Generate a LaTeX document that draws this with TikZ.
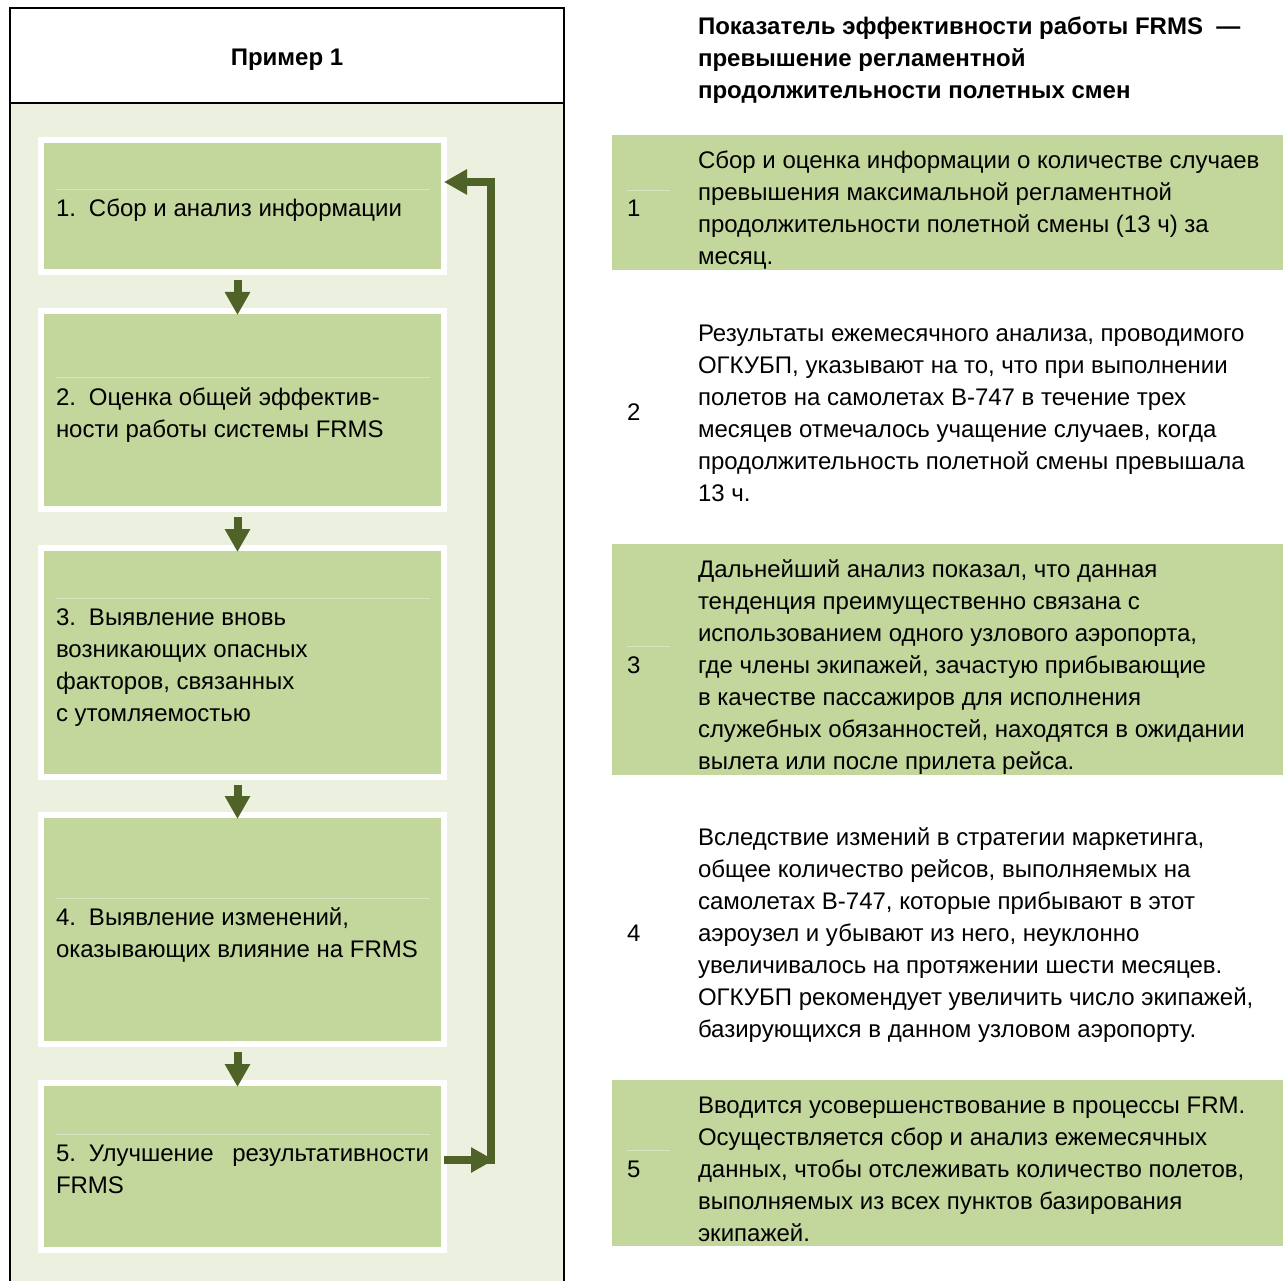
\documentclass[tikz,border=0pt]{standalone}
\usepackage{fontspec}
\setmainfont{Liberation Sans}
\usetikzlibrary{arrows.meta,calc}
\definecolor{panelbg}{HTML}{EBF1DE}
\definecolor{boxgreen}{HTML}{C3D69B}
\definecolor{arrowgreen}{HTML}{4F6228}
\definecolor{seam}{HTML}{D9E5C2}
\begin{document}
\begin{tikzpicture}[x=1pt,y=-1pt,
  txt/.style={inner sep=0pt, outer sep=0pt, anchor=north west, align=left,
    font=\fontsize{24}{32}\selectfont},
  num/.style={inner sep=0pt, anchor=base west, font=\fontsize{24}{32}\selectfont},
  stepbox/.style={draw=white, line width=6pt, fill=boxgreen, inner sep=0pt,
    outer sep=0pt, anchor=north west, minimum width=403pt},
  band/.style={fill=boxgreen, draw=none, inner sep=0pt, outer sep=0pt,
    anchor=north west, minimum width=671pt},
  seamline/.style={draw=seam, line width=1pt},
  flow/.style={draw=arrowgreen, line width=8pt, line join=miter,
    -{Triangle[width=24pt,length=23pt]}}]

% page
\fill[white] (0,0) rectangle (1283,1281);
\useasboundingbox (0,0) rectangle (1283,1281);

% left panel with its title cell
\fill[panelbg] (10,103) rectangle (564,1281);
\draw[line width=2pt] (10,1281) -- (10,8) -- (564,8) -- (564,1281);
\draw[line width=2pt] (10,103) -- (564,103);
\node[inner sep=0pt, anchor=base, font=\bfseries\fontsize{24}{32}\selectfont] (title) at (287,66) {Пример 1};

% process steps
\node[stepbox, minimum height=132pt] (b1) at (41,140) {};
\node[stepbox, minimum height=198pt] (b2) at (41,311) {};
\node[stepbox, minimum height=229pt] (b3) at (41,548) {};
\node[stepbox, minimum height=229pt] (b4) at (41,815) {};
\node[stepbox, minimum height=167pt] (b5) at (41,1083) {};

\foreach \y in {190,378,598,898,1134} \draw[seamline] (56,\y) -- (430,\y);

\node[txt] (s1) at (56,194.6) {\strut\makebox[33pt][l]{1.}Сбор и анализ информации};
\node[txt] (s2) at (56,382.6) {\strut\makebox[33pt][l]{2.}Оценка общей эффектив-\\ности работы системы FRMS};
\node[txt] (s3) at (56,602.6) {\strut\makebox[33pt][l]{3.}Выявление вновь\\возникающих опасных\\факторов, связанных\\с утомляемостью};
\node[txt] (s4) at (56,902.6) {\strut\makebox[33pt][l]{4.}Выявление изменений,\\оказывающих влияние на FRMS};
\node[txt] (s5) at (56,1138.6) {\strut\makebox[33pt][l]{5.}\makebox[340pt][s]{Улучшение результативности}\\FRMS};

% arrows between steps
\foreach \a/\b in {b1/b2,b2/b3,b3/b4,b4/b5}
  \draw[flow] ([xshift=-5pt,yshift=-8pt]\a.south) -- ([xshift=-5pt,yshift=-4pt]\b.north);

% feedback loop from step 5 back to step 1
\coordinate (fbB) at (491,1160);
\coordinate (fbT) at (491,182);
\draw[flow] (b5.east |- fbB) -- ($(fbB)+(3,0)$);
\draw[flow] ($(fbB)+(0,4)$) -- (fbT) -- (b1.east |- fbT);

% right column: indicator heading
\node[txt, font=\bfseries\fontsize{24}{32}\selectfont] (head) at (698,12.2)
  {\strut Показатель эффективности работы FRMS\ \ —\\превышение регламентной\\продолжительности полетных смен};

% highlighted rows
\node[band, minimum height=135pt] (r1) at (612,135) {};
\node[band, minimum height=231pt] (r3) at (612,544) {};
\node[band, minimum height=166pt] (r5) at (612,1080) {};
\foreach \y in {191,646,1150} \draw[seamline] (627,\y) -- (670,\y);

\node[num] (n1) at (627,217) {1};
\node[num] (n2) at (627,420) {2};
\node[num] (n3) at (627,673) {3};
\node[num] (n4) at (627,941) {4};
\node[num] (n5) at (627,1177) {5};

\node[txt] (t1) at (698,146.6) {\strut Сбор и оценка информации о количестве случаев\\превышения максимальной регламентной\\продолжительности полетной смены (13 ч) за\\месяц.};
\node[txt] (t2) at (698,318.6) {\strut Результаты ежемесячного анализа, проводимого\\ОГКУБП, указывают на то, что при выполнении\\полетов на самолетах B-747 в течение трех\\месяцев отмечалось учащение случаев, когда\\продолжительность полетной смены превышала\\13 ч.};
\node[txt] (t3) at (698,554.6) {\strut Дальнейший анализ показал, что данная\\тенденция преимущественно связана с\\использованием одного узлового аэропорта,\\где члены экипажей, зачастую прибывающие\\в качестве пассажиров для исполнения\\служебных обязанностей, находятся в ожидании\\вылета или после прилета рейса.};
\node[txt] (t4) at (698,822.6) {\strut Вследствие измений в стратегии маркетинга,\\общее количество рейсов, выполняемых на\\самолетах B-747, которые прибывают в этот\\аэроузел и убывают из него, неуклонно\\увеличивалось на протяжении шести месяцев.\\ОГКУБП рекомендует увеличить число экипажей,\\базирующихся в данном узловом аэропорту.};
\node[txt] (t5) at (698,1090.6) {\strut Вводится усовершенствование в процессы FRM.\\Осуществляется сбор и анализ ежемесячных\\данных, чтобы отслеживать количество полетов,\\выполняемых из всех пунктов базирования\\экипажей.};
\end{tikzpicture}
\end{document}
